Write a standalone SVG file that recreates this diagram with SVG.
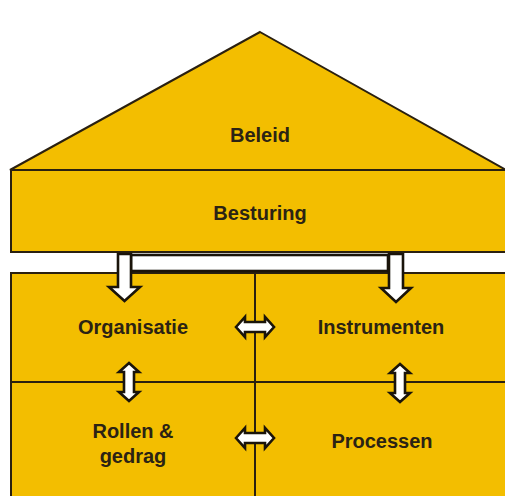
<svg xmlns="http://www.w3.org/2000/svg" width="505" height="496" viewBox="0 0 505 496">
  <style>
    .block { fill: #F3BE00; stroke: #2a2010; stroke-width: 2; }
    .arrow { fill: #ffffff; stroke: #1a140a; stroke-width: 2.6; stroke-linejoin: miter; }
    .label { font-family: "Liberation Sans", Arial, sans-serif; font-weight: bold; font-size: 20px; fill: #2b2314; text-anchor: middle; }
  </style>
  <defs>
    <!-- double-headed arrow, horizontal, centred on origin -->
    <polygon id="dbl" points="-19,0 -10,-10 -10,-5 10,-5 10,-10 19,0 10,10 10,5 -10,5 -10,10"/>
  </defs>

  <rect width="505" height="496" fill="#ffffff"/>

  <!-- roof -->
  <g id="beleid">
    <polygon class="block" points="260,32 506,170 10,170"/>
    <text class="label" x="260" y="142">Beleid</text>
  </g>

  <!-- steering band -->
  <g id="besturing">
    <rect class="block" x="11" y="170" width="500" height="82"/>
    <text class="label" x="260" y="220">Besturing</text>
  </g>

  <!-- lower quadrants -->
  <g id="organisatie">
    <rect class="block" x="11" y="273" width="244" height="109"/>
    <text class="label" x="133" y="334">Organisatie</text>
  </g>
  <g id="instrumenten">
    <rect class="block" x="255" y="273" width="256" height="109"/>
    <text class="label" x="381" y="334">Instrumenten</text>
  </g>
  <g id="rollen">
    <rect class="block" x="11" y="382" width="244" height="120"/>
    <text class="label" x="133" y="438">Rollen &amp;</text>
    <text class="label" x="133" y="463">gedrag</text>
  </g>
  <g id="processen">
    <rect class="block" x="255" y="382" width="256" height="120"/>
    <text class="label" x="382" y="448">Processen</text>
  </g>

  <g id="connectors">
    <!-- white bar joining the two downward arrows -->
    <rect class="arrow" x="131" y="255" width="257" height="16"/>
    <!-- downward arrows from Besturing -->
    <polygon class="arrow" points="118,254 131,254 131,287 140,287 124.5,301 109,287 118,287"/>
    <polygon class="arrow" points="389,254 403,254 403,288 411,288 396,302 381,288 389,288"/>
    <!-- horizontal double arrows -->
    <use href="#dbl" class="arrow" transform="translate(255,327)"/>
    <use href="#dbl" class="arrow" transform="translate(255,438)"/>
    <!-- vertical double arrows -->
    <use href="#dbl" class="arrow" transform="translate(129,382) rotate(90)"/>
    <use href="#dbl" class="arrow" transform="translate(400,383) rotate(90)"/>
  </g>
</svg>
